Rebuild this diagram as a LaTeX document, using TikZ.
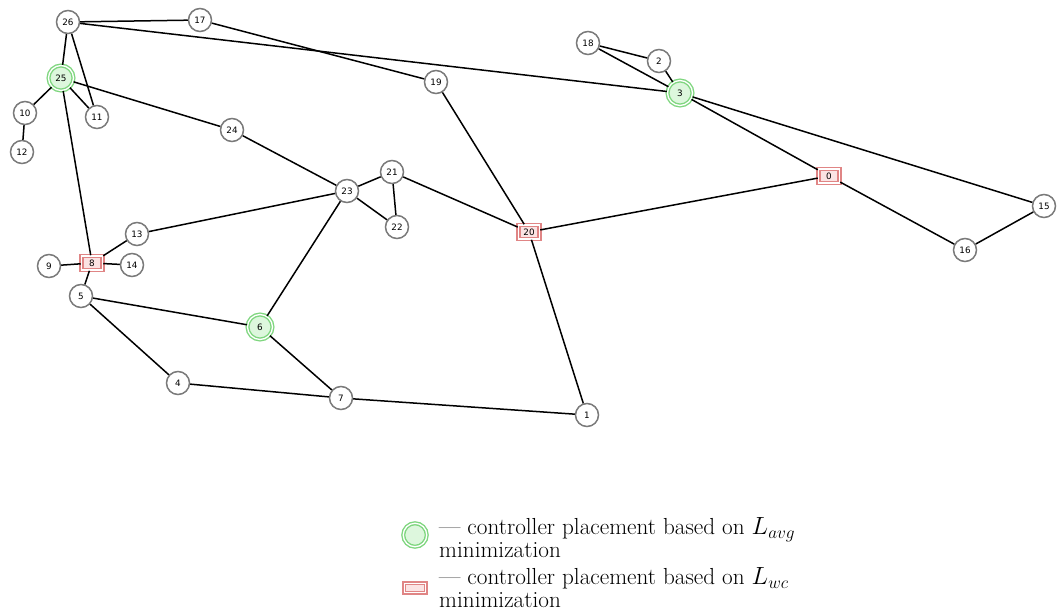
\documentclass[tikz,border=0pt]{standalone}
\usepackage{fontspec}
\newfontfamily\lab{DejaVu Sans}
\definecolor{ngray}{HTML}{7A7A7A}
\definecolor{ggreen}{HTML}{7FD67F}
\definecolor{gfill}{HTML}{DDF7DD}
\definecolor{rred}{HTML}{E08585}
\definecolor{rfill}{HTML}{FBE3E3}
\begin{document}
\begin{tikzpicture}[x=1pt,y=-1pt,
  plain/.style={circle,draw=ngray,line width=1.5pt,fill=white,minimum size=23pt,inner sep=0pt,font=\lab\fontsize{8.8}{9}\selectfont},
  avgnode/.style={circle,draw=ggreen,line width=1.4pt,double=white,double distance=1.3pt,fill=gfill,minimum size=25pt,inner sep=0pt,font=\lab\fontsize{8.8}{9}\selectfont},
  wcnode/.style={rectangle,draw=rred,line width=1.5pt,double=white,double distance=1.3pt,fill=rfill,minimum width=21pt,minimum height=14pt,inner sep=0pt,font=\lab\fontsize{8.8}{9}\selectfont},
  link/.style={line width=1.5pt,black},
  legtext/.style={anchor=west,align=left,font=\fontsize{23.2}{23}\selectfont,inner sep=0pt}
]
\useasboundingbox (0,0) rectangle (1058,611);
\node[wcnode] (n0) at (829,176) {0};
\node[plain] (n1) at (587,415) {1};
\node[plain] (n2) at (659,61) {2};
\node[avgnode] (n3) at (680,93) {3};
\node[plain] (n4) at (178,383) {4};
\node[plain] (n5) at (81,296) {5};
\node[avgnode] (n6) at (260,327) {6};
\node[plain] (n7) at (341,398) {7};
\node[wcnode] (n8) at (92,263) {8};
\node[plain] (n9) at (49,266) {9};
\node[plain] (n10) at (25,113) {10};
\node[plain] (n11) at (97,117) {11};
\node[plain] (n12) at (22,152) {12};
\node[plain] (n13) at (137,234) {13};
\node[plain] (n14) at (132,265) {14};
\node[plain] (n15) at (1044,206) {15};
\node[plain] (n16) at (965,250) {16};
\node[plain] (n17) at (200,20) {17};
\node[plain] (n18) at (588,43) {18};
\node[plain] (n19) at (436,82) {19};
\node[wcnode] (n20) at (529,232) {20};
\node[plain] (n21) at (392,172) {21};
\node[plain] (n22) at (397,227) {22};
\node[plain] (n23) at (347,191) {23};
\node[plain] (n24) at (232,130) {24};
\node[avgnode] (n25) at (61,78) {25};
\node[plain] (n26) at (68,22) {26};
\foreach \a/\b in {26/17,26/3,26/25,26/11,17/19,19/20,25/10,25/11,25/24,25/8,10/12,24/23,23/21,23/22,21/22,21/20,23/13,23/6,13/8,9/8,8/14,8/5,5/6,5/4,4/7,6/7,7/1,20/1,20/0,18/2,18/3,2/3,3/0,3/15,0/16,16/15}
  \draw[link] (n\a) -- (n\b);
% legend
\node[avgnode,minimum size=23.5pt] (legavg) at (415,535) {};
\node[wcnode,minimum width=21.5pt,minimum height=9.5pt] (legwc) at (415,588) {};
\node[legtext] (tavg) at (439,537.5) {--- controller placement based on $L_{avg}$\\minimization};
\node[legtext] (twc) at (439,587.5) {--- controller placement based on $L_{wc}$\\minimization};
\end{tikzpicture}
\end{document}
